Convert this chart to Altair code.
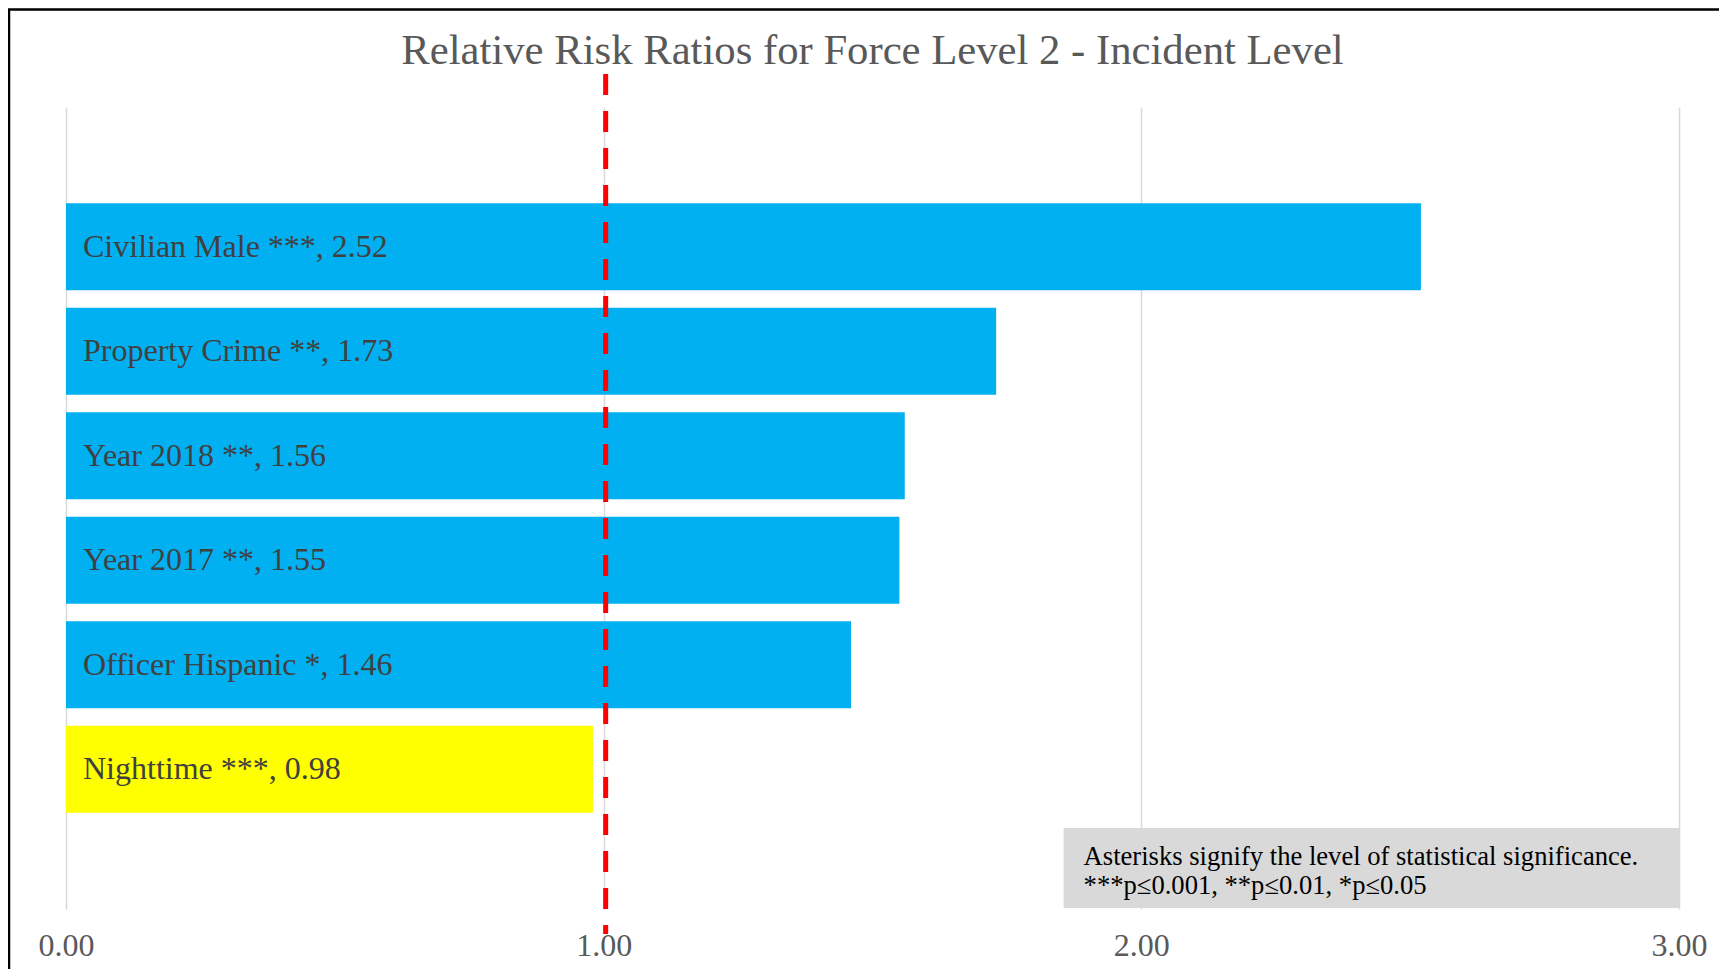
import altair as alt
import pandas as pd

categories = ["Civilian Male", "Property Crime", "Year 2018", "Year 2017", "Officer Hispanic", "Nighttime"]
stars = ["***", "**", "**", "**", "*", "***"]
values = [2.52, 1.73, 1.56, 1.55, 1.46, 0.98]
bar_colors = ["#00B0F0", "#00B0F0", "#00B0F0", "#00B0F0", "#00B0F0", "#FFFF00"]
x_ticks = [0, 1, 2, 3]
reference_value = 1.0
note_lines = ["Asterisks signify the level of statistical significance.",
              "***p\u22640.001, **p\u22640.01, *p\u22640.05"]
title_text = "Relative Risk Ratios for Force Level 2 - Incident Level"

df = pd.DataFrame({
    "category": categories,
    "stars": stars,
    "value": values,
    "color": bar_colors,
})
df["label"] = [f"{c} {s}, {v:.2f}" for c, s, v in zip(categories, stars, values)]

W, H = 1613, 802
FONT = "Liberation Serif"

y_enc = alt.Y("category:N", sort=categories, axis=None,
              scale=alt.Scale(paddingInner=0.166, paddingOuter=0.92))

base = alt.Chart(df)

bars = base.mark_bar().encode(
    x=alt.X("value:Q",
            scale=alt.Scale(domain=[0, 3], nice=False, zero=True),
            axis=alt.Axis(values=x_ticks, format=".2f", title=None,
                          domain=False, ticks=False, grid=True,
                          gridColor="#D9D9D9", gridWidth=1.5,
                          labelFont=FONT, labelFontSize=32,
                          labelColor="#595959", labelPadding=21,
                          labelFlush=False)),
    y=y_enc,
    color=alt.Color("color:N", scale=None),
)

labels = base.mark_text(align="left", baseline="middle", dx=17,
                        font=FONT, fontSize=32, color="#404040").encode(
    x=alt.datum(0),
    y=y_enc,
    text="label:N",
)

ref = alt.Chart(pd.DataFrame({"ref": [reference_value]})).mark_rule(
    color="#FF0000", strokeWidth=5, strokeDash=[21, 16], clip=False, xOffset=2
).encode(
    x="ref:Q",
    y=alt.value(-33),
    y2=alt.value(827),
)

note_box = alt.Chart(pd.DataFrame({"a": [0]})).mark_rect(color="#D9D9D9").encode(
    x=alt.value(997.6), x2=alt.value(1613),
    y=alt.value(721), y2=alt.value(801),
)
note_text = alt.Chart(pd.DataFrame({"line": [note_lines[0]]})).mark_text(
    align="left", baseline="alphabetic", font=FONT, fontSize=26.6, color="#000000"
).encode(x=alt.value(1017.6), y=alt.value(758), text="line:N")
note_text2 = alt.Chart(pd.DataFrame({"line": [note_lines[1]]})).mark_text(
    align="left", baseline="alphabetic", font=FONT, fontSize=26.6, color="#000000"
).encode(x=alt.value(1017.6), y=alt.value(787), text="line:N")

title = alt.Chart(pd.DataFrame({"t": [title_text]})).mark_text(
    align="center", baseline="alphabetic", font=FONT, fontSize=42.7, color="#595959"
).encode(x=alt.value(W / 2), y=alt.value(-43), text="t:N")

frame = alt.Chart(pd.DataFrame({"a": [0]})).mark_rect(
    fill=None, stroke="#000000", strokeWidth=2.5, clip=False
).encode(
    x=alt.value(-57), x2=alt.value(W + 200),
    y=alt.value(-97.5), y2=alt.value(H + 300),
)

chart = alt.layer(bars, labels, ref, note_box, note_text, note_text2, title, frame).properties(
    width=W, height=H,
    autosize=alt.AutoSizeParams(type="none"),
    padding={"left": 58, "top": 99, "right": 40, "bottom": 60},
).configure_view(stroke=None)

chart.save("out.html", embed_options={"renderer": "svg", "actions": False})
